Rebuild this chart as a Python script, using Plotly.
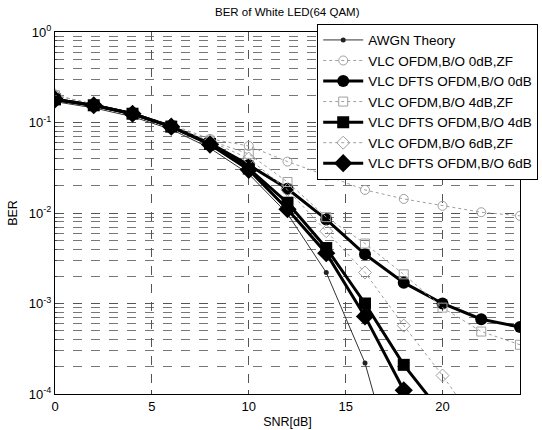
import plotly.graph_objects as go

snr = [0, 2, 4, 6, 8, 10, 12, 14, 16, 18, 20, 22, 24]

awgn_x = [0, 2, 4, 6, 8, 10, 12, 14, 16, 18]
awgn = [0.17, 0.145, 0.116, 0.084, 0.052, 0.027, 0.0098, 0.0022, 0.00022, 0.0000065]

ofdm0_zf = [0.20, 0.158, 0.127, 0.095, 0.066, 0.055, 0.037, 0.026, 0.018, 0.0143, 0.012, 0.0102, 0.0093]
dfts0 = [0.18, 0.155, 0.125, 0.090, 0.059, 0.034, 0.0185, 0.0085, 0.0035, 0.0017, 0.0010, 0.00067, 0.00055]
ofdm4_zf = [0.20, 0.158, 0.126, 0.093, 0.063, 0.045, 0.022, 0.009, 0.0046, 0.0021, 0.0009, 0.00049, 0.00035]
dfts4_x = [0, 2, 4, 6, 8, 10, 12, 14, 16, 18, 20]
dfts4 = [0.18, 0.155, 0.125, 0.090, 0.058, 0.031, 0.013, 0.0041, 0.0010, 0.00021, 0.00006]
ofdm6_zf_x = [0, 2, 4, 6, 8, 10, 12, 14, 16, 18, 20, 22]
ofdm6_zf = [0.20, 0.157, 0.125, 0.092, 0.062, 0.040, 0.018, 0.0063, 0.0022, 0.00057, 0.00016, 0.00004]
dfts6_x = [0, 2, 4, 6, 8, 10, 12, 14, 16, 18, 20]
dfts6 = [0.18, 0.155, 0.125, 0.090, 0.057, 0.030, 0.011, 0.0036, 0.00072, 0.00011, 0.00001]

names = ["AWGN Theory", "VLC OFDM,B/O 0dB,ZF", "VLC DFTS OFDM,B/O 0dB",
         "VLC OFDM,B/O 4dB,ZF", "VLC DFTS OFDM,B/O 4dB",
         "VLC OFDM,B/O 6dB,ZF", "VLC DFTS OFDM,B/O 6dB"]

y_ticks = [1e-4, 1e-3, 1e-2, 1e-1, 1]
y_ticktext = ["10<sup>-4</sup>", "10<sup>-3</sup>", "10<sup>-2</sup>", "10<sup>-1</sup>", "10<sup>0</sup>"]
x_ticks = [0, 5, 10, 15, 20]

light = "#a0a0a0"
fig = go.Figure()
fig.add_trace(go.Scatter(x=awgn_x, y=awgn, name=names[0], mode="lines+markers",
                         line=dict(color="#333333", width=1),
                         marker=dict(symbol="circle", size=5, color="#222222")))
fig.add_trace(go.Scatter(x=snr, y=ofdm0_zf, name=names[1], mode="lines+markers",
                         line=dict(color=light, width=1, dash="dot"),
                         marker=dict(symbol="circle-open", size=9, color=light, line=dict(width=1))))
fig.add_trace(go.Scatter(x=snr, y=dfts0, name=names[2], mode="lines+markers",
                         line=dict(color="black", width=3),
                         marker=dict(symbol="circle", size=12, color="black")))
fig.add_trace(go.Scatter(x=snr, y=ofdm4_zf, name=names[3], mode="lines+markers",
                         line=dict(color=light, width=1, dash="dot"),
                         marker=dict(symbol="square-open", size=9, color=light, line=dict(width=1))))
fig.add_trace(go.Scatter(x=dfts4_x, y=dfts4, name=names[4], mode="lines+markers",
                         line=dict(color="black", width=3),
                         marker=dict(symbol="square", size=12, color="black")))
fig.add_trace(go.Scatter(x=ofdm6_zf_x, y=ofdm6_zf, name=names[5], mode="lines+markers",
                         line=dict(color=light, width=1, dash="dot"),
                         marker=dict(symbol="diamond-open", size=10, color=light, line=dict(width=1))))
fig.add_trace(go.Scatter(x=dfts6_x, y=dfts6, name=names[6], mode="lines+markers",
                         line=dict(color="black", width=3),
                         marker=dict(symbol="diamond", size=14, color="black")))

minor_vals = [m * 10 ** e for e in range(-4, 0) for m in range(2, 10)]

fig.update_layout(
    width=542, height=430,
    margin=dict(l=55, r=22, t=32, b=36, autoexpand=False),
    paper_bgcolor="white", plot_bgcolor="white",
    font=dict(family="Liberation Sans, Arial, sans-serif", size=12, color="black"),
    title=dict(text="BER of White LED(64 QAM)", x=0.53, xanchor="center", y=0.972, yanchor="middle",
               font=dict(size=11.5)),
    showlegend=True,
    legend=dict(xref="container", yref="container", x=0.993, xanchor="right",
                y=0.945, yanchor="top",
                bgcolor="white", bordercolor="black", borderwidth=1,
                font=dict(size=13.5), itemwidth=40, tracegroupgap=0),
    xaxis=dict(range=[0, 24], tickvals=x_ticks, ticks="inside", ticklen=4,
               showline=True, linecolor="black", mirror=True, linewidth=1,
               showgrid=True, gridcolor="#555555", griddash="dash", gridwidth=1,
               zeroline=False, title=dict(text="SNR[dB]", standoff=4, font=dict(size=12.5)),
               tickfont=dict(size=13)),
    yaxis=dict(type="log", range=[-4, 0], tickvals=y_ticks, ticktext=y_ticktext,
               ticks="inside", ticklen=4,
               showline=True, linecolor="black", mirror=True, linewidth=1,
               showgrid=True, gridcolor="#555555", griddash="dash", gridwidth=1,
               zeroline=False, title=dict(text="BER", standoff=8, font=dict(size=12.5)),
               tickfont=dict(size=13),
               minor=dict(tickvals=minor_vals, showgrid=True, gridcolor="#777777",
                          griddash="dash", gridwidth=1, ticks="inside", ticklen=2)),
)

fig.write_html("out.html", config={"displayModeBar": False},
               post_script="document.body.style.margin='0';document.body.style.overflow='hidden';")
